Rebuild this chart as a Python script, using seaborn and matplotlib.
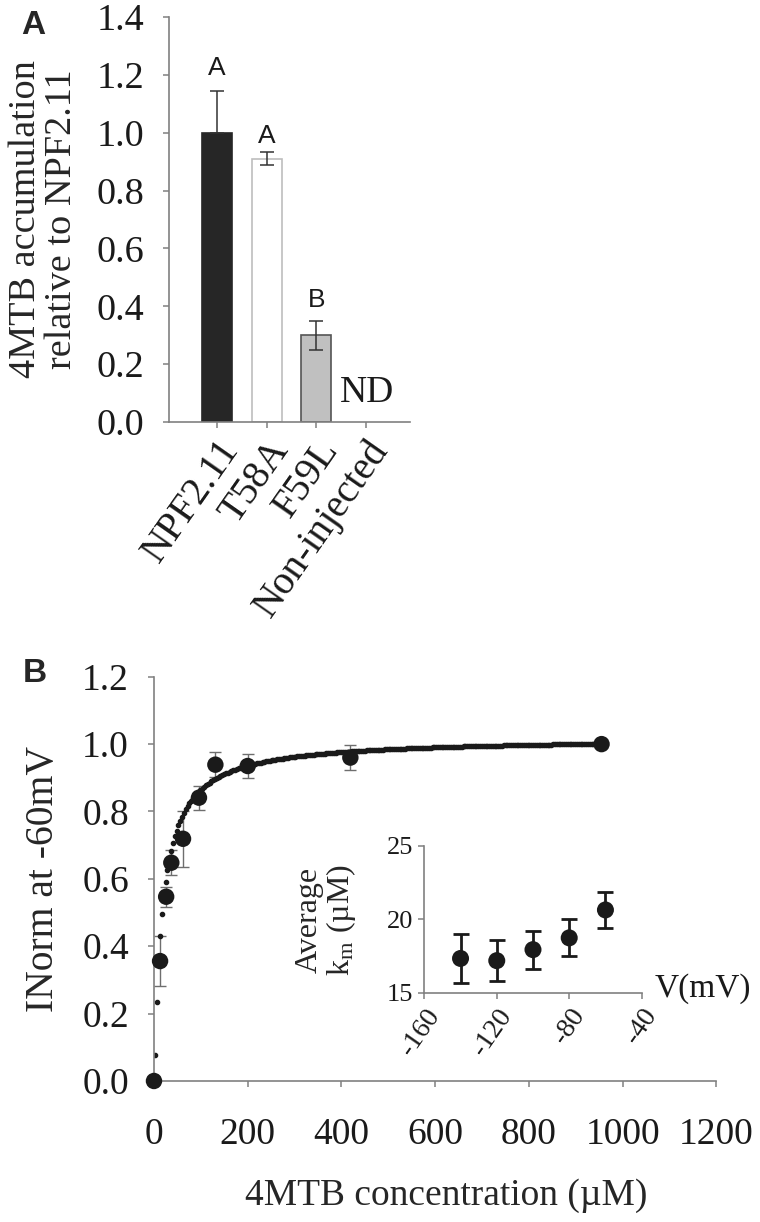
import numpy as np
import pandas as pd
import seaborn as sns
import matplotlib.pyplot as plt

# ---- Panel A: 4MTB accumulation ----
variants = ["NPF2.11", "T58A", "F59L", "Non-injected"]
accum = [1.0, 0.91, 0.30, 0.0]
accum_err_lo = [0.0, 0.022, 0.05, 0.0]
accum_err_hi = [0.145, 0.022, 0.05, 0.0]
sig_letters = ["A", "A", "B", "ND"]
bar_colors = ["#262626", "#ffffff", "#c0c0c0", "#ffffff"]
bar_edges = ["#262626", "#bdbdbd", "#555555", "#ffffff"]

# ---- Panel B: concentration dependence at -60 mV ----
conc = [0, 13, 26, 37, 62, 96, 131, 200, 419, 955]
inorm = [0.0, 0.356, 0.547, 0.648, 0.719, 0.841, 0.939, 0.935, 0.960, 1.0]
inorm_err = [0.0, 0.075, 0.030, 0.037, 0.083, 0.036, 0.038, 0.037, 0.036, 0.0]
# Michaelis-Menten fit parameters
km_fit = 18.0
imax_fit = 1.02

# ---- Inset: average Km vs voltage ----
volt = [-140, -120, -100, -80, -60]
km_avg = [17.35, 17.2, 17.95, 18.75, 20.65]
km_err = [1.65, 1.4, 1.3, 1.25, 1.2]

sns.set_theme(style="ticks")
plt.rcParams["font.family"] = ["Liberation Serif", "DejaVu Serif"]
plt.rcParams["mathtext.fontset"] = "stix"

spine_col = "#808080"

fig = plt.figure(figsize=(7.6, 12.22), dpi=100)


def style_axes(ax, tick_size, pad=4):
    for s in ["top", "right"]:
        ax.spines[s].set_visible(False)
    for s in ["left", "bottom"]:
        ax.spines[s].set_color(spine_col)
        ax.spines[s].set_linewidth(1.2)
    ax.tick_params(axis="both", direction="out", length=4, width=1.1, pad=pad,
                   color=spine_col, labelsize=tick_size, labelcolor="#1a1a1a")


# Panel A
axA = fig.add_axes([0.2224, 0.6547, 0.317, 0.3314])
df_a = pd.DataFrame({"variant": variants, "accum": accum})
sns.barplot(data=df_a, x="variant", y="accum", hue="variant", palette=bar_colors,
            width=0.6, saturation=1, legend=False, errorbar=None, ax=axA)
for patch, ec, h in zip(axA.patches, bar_edges, accum):
    patch.set_edgecolor(ec)
    patch.set_linewidth(1.2 if h > 0 else 0)
axA.errorbar(range(3), accum[:3], yerr=[accum_err_lo[:3], accum_err_hi[:3]],
             fmt="none", ecolor="#333333", elinewidth=1.1, capsize=5,
             capthick=1.1, zorder=4)
axA.set_xlim(-0.966, 3.885)
axA.set_ylim(0, 1.4)
axA.set_yticks(np.arange(0, 1.41, 0.2))
axA.set_yticklabels([f"{v:.1f}" for v in np.arange(0, 1.41, 0.2)])
style_axes(axA, 27.5, pad=14)
axA.tick_params(axis="x", pad=4)
axA.set_xlabel("")
axA.set_xticks(range(4))
axA.set_xticklabels(variants, rotation=55, ha="right", va="top",
                    rotation_mode="anchor", fontsize=28.5)
axA.set_ylabel("4MTB accumulation\nrelative to NPF2.11", fontsize=27.5,
               linespacing=1.05, va="center", ha="center")
axA.yaxis.set_label_coords(-0.52, 0.5)

letter_y = [1.225, 0.99, 0.42]
for i in range(3):
    axA.text(i, letter_y[i], sig_letters[i], ha="center", va="center",
             fontsize=19, family="Liberation Sans", color="#1a1a1a")
axA.text(3.03, 0.10, sig_letters[3], ha="center", va="center", fontsize=27,
         color="#1a1a1a")

fig.text(0.028, 1 - 26 / 1222, "A", fontsize=24, fontweight="bold",
         family="Liberation Sans", ha="left", va="center")

# Panel B
axB = fig.add_axes([0.2026, 0.1154, 0.740, 0.3308])
fit_x = np.arange(1.5, 956, 3.9)
fit_y = imax_fit * fit_x / (km_fit + fit_x)
axB.plot(fit_x, fit_y, "o", ms=3.0, color="#1a1a1a", zorder=2)
axB.errorbar(conc, inorm, yerr=inorm_err, fmt="none", ecolor="#6e6e6e",
             elinewidth=1.0, capsize=4, capthick=1.0, zorder=1)
sns.scatterplot(x=conc, y=inorm, s=140, color="#1a1a1a", edgecolor="none",
                zorder=3, ax=axB)
for coll in axB.collections:
    coll.set_clip_on(False)
axB.set_xlim(0, 1200)
axB.set_ylim(0, 1.2)
axB.set_xticks(range(0, 1201, 200))
axB.set_yticks(np.arange(0, 1.21, 0.2))
axB.set_yticklabels([f"{v:.1f}" for v in np.arange(0, 1.21, 0.2)])
style_axes(axB, 27, pad=14)
axB.tick_params(axis="x", pad=22)
axB.set_ylabel("INorm at -60mV", fontsize=28.5, va="center", ha="center")
axB.yaxis.set_label_coords(-0.196, 0.5)
axB.set_xlabel("4MTB concentration (\u00b5M)", fontsize=27, va="center")
axB.xaxis.set_label_coords(0.52, -0.284)

fig.text(0.030, 1 - 673 / 1222, "B", fontsize=24, fontweight="bold",
         family="Liberation Sans", ha="left", va="center")

# Inset
axI = fig.add_axes([0.5583, 0.1874, 0.286, 0.1203])
axI.patch.set_alpha(0)
axI.errorbar(volt, km_avg, yerr=km_err, fmt="none", ecolor="#1a1a1a",
             elinewidth=2, capsize=6, capthick=2, zorder=2)
sns.scatterplot(x=volt, y=km_avg, s=150, color="#1a1a1a", edgecolor="none",
                zorder=3, ax=axI)
axI.set_xlim(-160, -40)
axI.set_ylim(15, 25)
axI.set_xticks([-160, -120, -80, -40])
axI.set_yticks([15, 20, 25])
style_axes(axI, 19)
axI.set_xticklabels(["-160", "-120", "-80", "-40"], rotation=55, ha="right",
                    va="top", rotation_mode="anchor", fontsize=20)
axI.set_ylabel("Average\nk$_\\mathregular{m}$ (\u00b5M)", fontsize=23,
               linespacing=1.0, va="center", ha="center")
axI.yaxis.set_label_coords(-0.45, 0.5)
axI.text(1.06, 0.03, "V(mV)", transform=axI.transAxes, ha="left",
         va="center", fontsize=24, color="#1a1a1a")

fig.savefig("out.png", dpi=100)
